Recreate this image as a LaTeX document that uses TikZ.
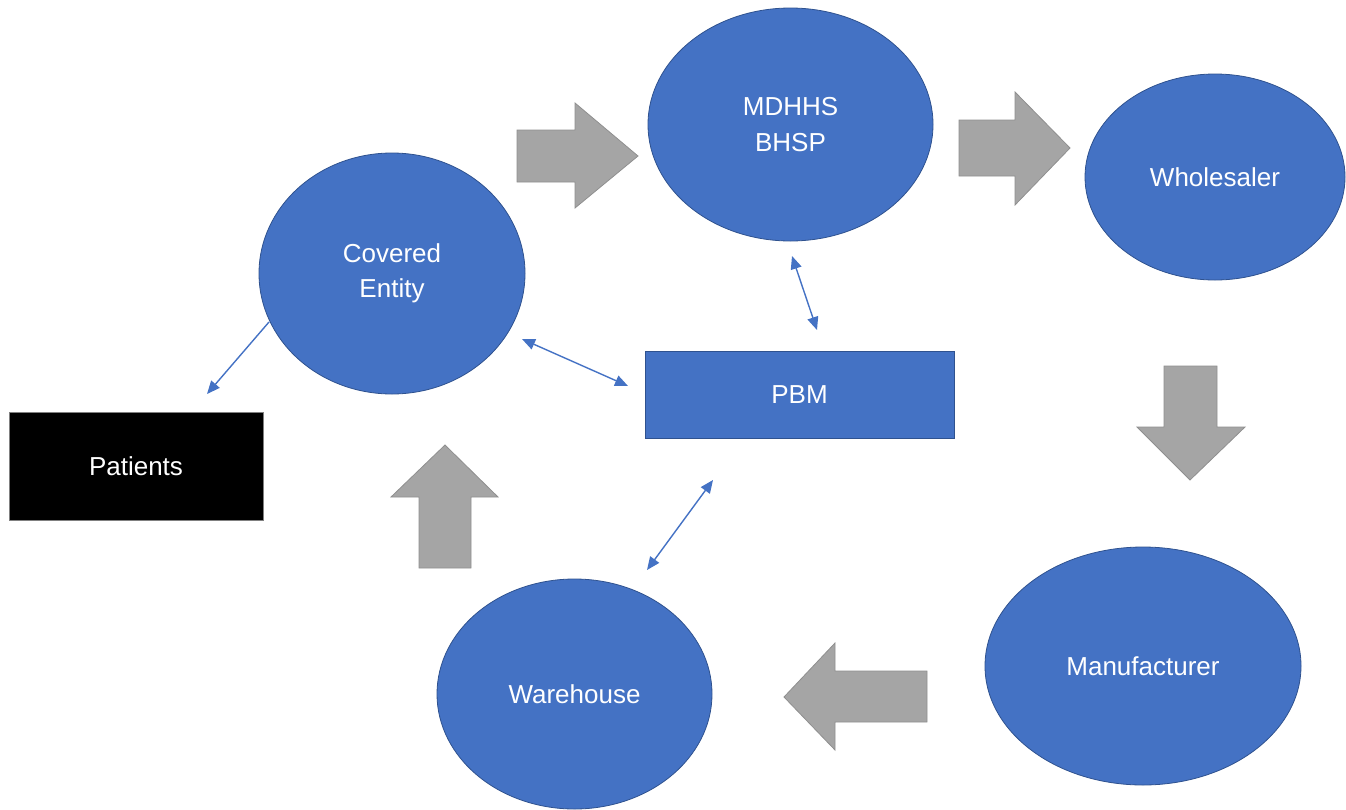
\documentclass[tikz,border=0pt]{standalone}
\usepackage{fontspec}
\setmainfont{Liberation Sans}
\usetikzlibrary{shapes.geometric,arrows.meta}
\definecolor{nodeblue}{HTML}{4472C4}
\definecolor{edgeblue}{HTML}{2F528F}
\definecolor{blockgray}{HTML}{A5A5A5}
\definecolor{blockedge}{HTML}{8F8F8F}
\tikzset{
  oval/.style={ellipse, fill=nodeblue, draw=edgeblue, line width=0.8pt, inner sep=0pt,
    text=white, align=center, font=\fontsize{26}{35.5}\selectfont},
  pbmbox/.style={rectangle, fill=nodeblue, draw=edgeblue, line width=0.8pt, inner sep=0pt,
    text=white, font=\fontsize{26}{31}\selectfont},
  patbox/.style={rectangle, fill=black, draw=gray, line width=0.8pt, inner sep=0pt,
    text=white, font=\fontsize{26}{31}\selectfont},
  blockarrow/.style={fill=blockgray, draw=blockedge, line width=0.8pt, line join=miter},
  link/.style={draw=nodeblue, line width=1.4pt, {Triangle[length=13pt,width=11pt]}-{Triangle[length=13pt,width=11pt]}},
  onelink/.style={draw=nodeblue, line width=1.4pt, -{Triangle[length=13pt,width=11pt]}}
}
\begin{document}
\begin{tikzpicture}[x=1pt,y=-1pt]
\useasboundingbox (0,0) rectangle (1346,809);
% nodes
\node[oval, minimum width=266pt, minimum height=241pt] (ce) at (392,273.5) {Covered\\Entity};
\node[oval, minimum width=285pt, minimum height=233pt] (md) at (790.5,124.5) {MDHHS\\BHSP};
\node[oval, minimum width=260pt, minimum height=206pt] (wh) at (1215,177) {Wholesaler};
\node[oval, minimum width=316pt, minimum height=238pt] (mf) at (1143,666) {Manufacturer};
\node[oval, minimum width=275pt, minimum height=230pt] (wa) at (574.5,694) {Warehouse};
\node[pbmbox, minimum width=309pt, minimum height=87pt] (pbm) at (799.5,394.5) {PBM};
\node[patbox, minimum width=254pt, minimum height=108pt] (pat) at (136,466) {Patients};
% block arrows
\draw[blockarrow] (517,130) -- (575,130) -- (575,103) -- (638,156) -- (575,208) -- (575,182) -- (517,182) -- cycle;
\draw[blockarrow] (959,120) -- (1015,120) -- (1015,92) -- (1070,148) -- (1015,205) -- (1015,176) -- (959,176) -- cycle;
\draw[blockarrow] (1164,366) -- (1217,366) -- (1217,427) -- (1245,427) -- (1190,480) -- (1137,427) -- (1164,427) -- cycle;
\draw[blockarrow] (927,671) -- (835,671) -- (835,643) -- (784,697) -- (835,750) -- (835,722) -- (927,722) -- cycle;
\draw[blockarrow] (471,568) -- (471,497) -- (498,497) -- (445,445) -- (391,497) -- (419,497) -- (419,568) -- cycle;
% connector end points
\coordinate (cePat) at (269,322);
\coordinate (patTop) at (207,394);
\coordinate (cePbm) at (522,339);
\coordinate (pbmCe) at (628,386);
\coordinate (mdPbm) at (792,256);
\coordinate (pbmMd) at (817,330);
\coordinate (pbmWa) at (713,480);
\coordinate (waPbm) at (647,570);
% thin connectors
\draw[onelink] (cePat) -- (patTop);
\draw[link] (cePbm) -- (pbmCe);
\draw[link] (mdPbm) -- (pbmMd);
\draw[link] (pbmWa) -- (waPbm);
\end{tikzpicture}
\end{document}
